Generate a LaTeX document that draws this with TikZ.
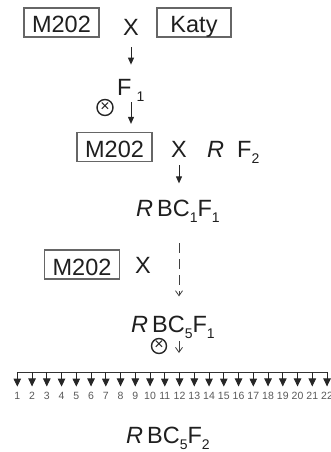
\documentclass[tikz,border=0pt]{standalone}
\usepackage{fontspec}
\setmainfont{Liberation Sans}
\usetikzlibrary{arrows.meta}
% lowered generation index (F1, BC5, ...)
\newcommand\lowidx[1]{\raisebox{-6pt}{\fontsize{14}{14}\selectfont #1}}
\begin{document}
\begin{tikzpicture}[x=1pt,y=-1pt,
  every node/.style={inner sep=0pt, text=black!88},
  big/.style={font=\fontsize{23.5}{23.5}\selectfont},
  parent/.style={big, draw=black!60, line width=1.2pt, minimum width=75pt,
    minimum height=29pt, text height=21pt, text depth=0pt},
  arr/.style={draw=black!85, line width=0.9pt, -{Triangle[width=6pt,length=7pt]}},
  openarr/.style={draw=black!75, line width=0.8pt, -{Straight Barb[width=7pt,length=5pt]}},
  bus/.style={draw=black!80, line width=0.9pt},
  fan/.style={draw=black!85, line width=0.9pt, -{Triangle[width=7.5pt,length=8pt]}},
  num/.style={font=\fontsize{10.5}{10.5}\selectfont, text=black!65},
  selfing/.style={circle, draw=black!85, line width=1.4pt, minimum size=16pt,
    font=\fontsize{16}{16}\selectfont, text height=7pt, text depth=0pt}]
\useasboundingbox (0,0) rectangle (331,452);

% first cross
\node[parent] (p1) at (61.5,22.5) {M202};
\node[big, anchor=base] (x1) at (131,36) {X};
\node[parent, minimum width=74pt] (p2) at (194,22.5) {Katy};
\node[big, anchor=base west] (f1) at (117,95) {F\hspace{5pt}\lowidx{1}};
\node[selfing] (s1) at (105,107.5) {×};

% backcross to the recurrent parent
\node[parent] (p3) at (114.5,147) {M202};
\node[big, anchor=base] (x3) at (179,157) {X};
\node[big, anchor=base west] (rf2) at (207,157) {\textit{R}\hspace{13pt}F\lowidx{2}};
\node[big, anchor=base west] (bc1) at (136,216) {\textit{R}\hspace{4pt}BC\lowidx{1}F\lowidx{1}};

% repeated backcrosses
\node[parent] (p4) at (82,264.5) {M202};
\node[big, anchor=base] (x4) at (143,273) {X};
\node[big, anchor=base west] (bc5) at (131,332) {\textit{R}\hspace{4pt}BC\lowidx{5}F\lowidx{1}};
\node[selfing, minimum size=15pt] (s2) at (159,346) {×};

% selfed lines
\coordinate (busL) at (17.3,372);
\coordinate (busR) at (327,372);
\foreach \i in {1,...,22}
  \node[num, anchor=base] (n\i) at ({17.3+14.75*(\i-1)},399) {\i};
\node[big, anchor=base west] (bc5f2) at (126,443) {\textit{R}\hspace{4pt}BC\lowidx{5}F\lowidx{2}};

% connectors
\draw[arr, shorten <=11pt, shorten >=14pt] (x1.south) -- (x1.south |- f1.north);
\draw[arr, shorten <=1pt, shorten >=8pt] (x1.south |- f1.south) -- (x1.south |- p3.north);
\draw[arr, shorten <=8pt, shorten >=16pt] (x3.south) -- (x3.south |- bc1.north);
\draw[openarr, dash pattern=on 10pt off 6pt, shorten <=21pt, shorten >=19pt]
  (x3.south |- bc1.south) -- (x3.south |- bc5.north);
\draw[openarr, shorten <=3pt, shorten >=19pt] (x3.south |- bc5.south) -- (x3.south |- busL);
\draw[bus] (busL) -- (busR);
\foreach \i in {1,...,22}
  \draw[fan, shorten >=5pt] (n\i |- busL) -- (n\i.north);
\end{tikzpicture}
\end{document}
